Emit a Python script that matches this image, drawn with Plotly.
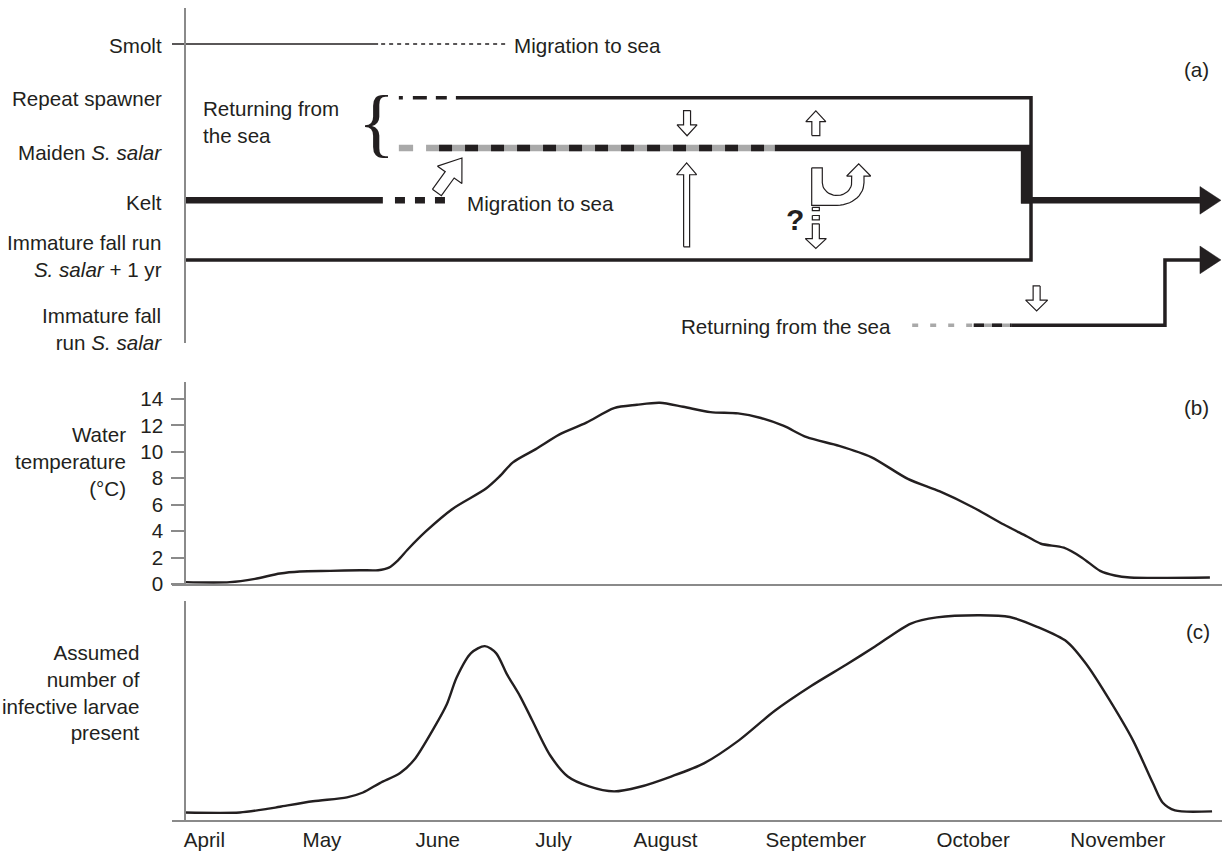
import numpy as np
import plotly.graph_objects as go

INK = "#231f20"
GREY = "#a9a9a9"
AXIS_GREY = "#8a8a8a"
FONT = "Liberation Sans, Arial, sans-serif"
FS = 20.6

# ---------------------------------------------------------------- data
# shared time axis: days counted from the start of April
MONTHS = ["April", "May", "June", "July", "August", "September", "October", "November"]
MONTH_DAY = [4.5, 31.7, 58.5, 85.3, 111.2, 146.0, 182.4, 215.9]

# (b) water temperature (°C)
TEMP_DAY = [0.0, 10.4, 16.2, 22.0, 26.6, 33.6, 40.5, 44.7, 47.2, 49.3,
            51.5, 55.8, 62.0, 69.6, 72.7, 75.9, 81.2, 86.6, 92.9, 99.3,
            104.6, 109.9, 115.3, 121.6, 128.0, 133.3, 138.6, 143.9, 151.4, 158.8,
            167.3, 174.7, 182.1, 189.5, 194.9, 198.1, 203.4, 207.6, 211.8, 215.2,
            218.7, 237.2]
TEMP_C = [0.15, 0.15, 0.4, 0.8, 0.95, 1.0, 1.05, 1.05, 1.25, 1.8,
          2.6, 4.0, 5.7, 7.2, 8.1, 9.2, 10.2, 11.3, 12.2, 13.3,
          13.55, 13.7, 13.4, 13.0, 12.9, 12.55, 11.95, 11.1, 10.45, 9.6,
          7.95, 7.0, 5.85, 4.5, 3.6, 3.05, 2.75, 2.0, 1.0, 0.65,
          0.5, 0.5]
TEMP_TICKS = [0, 2, 4, 6, 8, 10, 12, 14]

# (c) assumed number of infective larvae (relative scale, 0-100)
LARVAE_DAY = [0.0, 12.7, 19.0, 22.0, 29.6, 37.5, 41.2, 45.1, 49.8, 53.0,
              57.6, 60.6, 62.9, 66.2, 69.4, 72.0, 74.5, 77.5, 80.3, 84.5,
              88.6, 93.5, 99.3, 105.1, 112.5, 120.1, 128.2, 136.5, 144.9, 153.0,
              159.7, 168.0, 174.0, 184.0, 190.9, 197.2, 204.1, 208.7, 214.1, 219.4,
              224.0, 226.3, 229.1, 237.7]
LARVAE = [3.6, 3.6, 5.2, 6.2, 8.7, 10.5, 12.7, 17.0, 21.6, 27.5,
          42.1, 53.0, 65.3, 76.3, 79.5, 76.3, 66.7, 56.8, 45.9, 29.7,
          20.0, 15.5, 13.2, 15.2, 20.0, 26.0, 36.5, 50.0, 61.3, 71.0,
          79.3, 89.8, 92.6, 93.6, 92.8, 88.3, 81.5, 71.0, 54.5, 36.5,
          17.0, 8.0, 4.5, 4.1]

# (a) life-history rows and the day ranges of each phase
ROW_LABELS = ["Smolt", "Repeat spawner", "Maiden <i>S. salar</i>", "Kelt",
              "Immature fall run<br><i>S. salar</i> + 1 yr",
              "Immature fall<br>run <i>S. salar</i>"]
ROW_Y = [5.71, 4.68, 3.72, 2.72, 1.58, 0.33]
ROW_LABEL_SHIFT = [-2, -1, -4, -2, 4, -4]
R_SMOLT, R_REPEAT, R_MAIDEN, R_KELT, R_IMM1, R_IMM = ROW_Y

SMOLT_RIVER = [-3.0, 44.7]
SMOLT_MIGRATING = [45.4, 74.1]
REPEAT_ARRIVING = [49.5, 60.6]
REPEAT_RIVER = [62.7, 195.8]
MAIDEN_FIRST = [49.5, 52.8]
MAIDEN_ARRIVING = [55.8, 136.5]
MAIDEN_ARRIVING_DARK = [58.8, 136.5]
MAIDEN_RIVER = [136.5, 195.8]
MAIDEN_DROP_DAY = 194.6
KELT_RIVER = [0.0, 45.8]
KELT_MIGRATING = [48.6, 60.4]
KELT_OUT = [193.5, 234.9]
IMM1_RIVER = [0.0, 195.8]
IMM_ARRIVING = [168.3, 182.4]
IMM_MIXED = [182.4, 191.2]
IMM_MIXED_DARK = [182.6, 191.2]
IMM_RIVER = [191.2, 226.8]
IMM_OUT = [226.8, 234.9]

# ---------------------------------------------------------------- layout geometry
W, H = 1224, 857
X_RANGE = [-3, 240]
X_PX = (172, 1222)
Y_AXIS_PX = 185
A_PX, B_PX, C_PX = (8, 347), (387, 591.7), (609, 831)
A_RANGE, B_RANGE, C_RANGE = [0, 6.4], [0, 15.27], [0, 100]
PX_DAY = (X_PX[1] - X_PX[0]) / (X_RANGE[1] - X_RANGE[0])
PX_ROW = (A_PX[1] - A_PX[0]) / (A_RANGE[1] - A_RANGE[0])


def dom(px):
    top, bottom = px
    return [1 - bottom / H, 1 - top / H]


def py(px_y):
    return 1 - px_y / H


fig = go.Figure()


def line_a(xs, ys, width, color=INK, dash="solid"):
    fig.add_trace(go.Scatter(x=xs, y=ys, mode="lines", xaxis="x3", yaxis="y3",
                             line=dict(color=color, width=width, dash=dash),
                             hoverinfo="skip", showlegend=False))


def polys_a(polys, fill, width=1.2):
    xs, ys = [], []
    for p in polys:
        xs += [q[0] for q in p] + [p[0][0], None]
        ys += [q[1] for q in p] + [p[0][1], None]
    fig.add_trace(go.Scatter(x=xs, y=ys, mode="lines", fill="toself", fillcolor=fill,
                             line=dict(color=INK, width=width), xaxis="x3", yaxis="y3",
                             hoverinfo="skip", showlegend=False))


def to_data(points_px, origin):
    ox, oy = origin
    return [(ox + dx / PX_DAY, oy + dy / PX_ROW) for dx, dy in points_px]


def block_arrow(tail, tip, shaft, head, head_len):
    """Open block arrow from tail to tip (data units); sizes in screen pixels."""
    t = np.array([tail[0] * PX_DAY, tail[1] * PX_ROW])
    h = np.array([tip[0] * PX_DAY, tip[1] * PX_ROW])
    d = (h - t) / np.hypot(*(h - t))
    n = np.array([-d[1], d[0]])
    b = h - d * head_len
    pts = [t + n * shaft / 2, b + n * shaft / 2, b + n * head / 2, h,
           b - n * head / 2, b - n * shaft / 2, t - n * shaft / 2]
    return [(p[0] / PX_DAY, p[1] / PX_ROW) for p in pts]


def solid_head(end_day, row, length=21, height=28):
    return to_data([(0, height / 2), (length, 0), (0, -height / 2)], (end_day, row))


# ---------------------------------------------------------------- panel (a)
line_a(SMOLT_RIVER, [R_SMOLT] * 2, 1.3)
line_a(SMOLT_MIGRATING, [R_SMOLT] * 2, 1.3, dash="4px,4px")

line_a(REPEAT_ARRIVING, [R_REPEAT] * 2, 3.5, dash="4px,10px,14px,9px,11px,9px")
line_a(REPEAT_RIVER + [REPEAT_RIVER[1], IMM1_RIVER[0]],
       [R_REPEAT, R_REPEAT, R_IMM1, R_IMM1], 3.5)

line_a(MAIDEN_FIRST, [R_MAIDEN] * 2, 6.5, color=GREY)
line_a(MAIDEN_ARRIVING, [R_MAIDEN] * 2, 6.5, color=GREY)
line_a(MAIDEN_ARRIVING_DARK, [R_MAIDEN] * 2, 6.5, dash="13px,13px")
line_a(MAIDEN_RIVER, [R_MAIDEN] * 2, 6.5)
line_a([MAIDEN_DROP_DAY] * 2, [R_MAIDEN + 3.2 / PX_ROW, R_KELT - 3.2 / PX_ROW], 10)

line_a(KELT_RIVER, [R_KELT] * 2, 6.5)
line_a(KELT_MIGRATING, [R_KELT] * 2, 6.5, dash="10px,10px")
line_a(KELT_OUT, [R_KELT] * 2, 6.5)

line_a(IMM_ARRIVING, [R_IMM] * 2, 3.5, color=GREY, dash="6px,12px")
line_a(IMM_MIXED, [R_IMM] * 2, 3.5, color=GREY)
line_a(IMM_MIXED_DARK, [R_IMM] * 2, 3.5, dash="10px,8px")
line_a(IMM_RIVER + [IMM_OUT[0], IMM_OUT[1]], [R_IMM, R_IMM, R_IMM1, R_IMM1], 3.5)

polys_a([solid_head(KELT_OUT[1], R_KELT), solid_head(IMM_OUT[1], R_IMM1)], INK, width=0.5)

# movement arrows between the rows
ARROWS = [
    # (tail day, tail row, tip day, tip row, shaft px, head px, head length px)
    (116.2, 4.437, 116.2, 3.955, 7, 20, 11),
    (146.0, 3.959, 146.0, 4.431, 8, 20, 11),
    (116.1, 1.831, 116.1, 3.436, 6, 20, 12),
    (146.0, 2.271, 146.0, 1.799, 7, 21, 10),
    (197.1, 1.082, 197.1, 0.604, 7, 22, 11),
    (58.3, 2.870, 64.1, 3.530, 11, 30, 21),
]
arrow_polys = [block_arrow((a[0], a[1]), (a[2], a[3]), a[4], a[5], a[6]) for a in ARROWS]

# U-turn arrow (fish that turn back), drawn around its bend centre
U_CENTRE = (150.9, 3.058)
t_in = np.linspace(np.pi, 2 * np.pi, 20)
t_out = np.linspace(0, -np.pi / 2, 14)
u_pts = [(-25.3, 15), (-14.7, 15)]
u_pts += [(14.7 * np.cos(t), 13 * np.sin(t)) for t in t_in]
u_pts += [(14.7, 6.7), (9.7, 6.7), (21.7, 19), (33.7, 6.7), (27, 6.7)]
u_pts += [(27 * np.cos(t), 23 * np.sin(t)) for t in t_out]
u_pts += [(-25.3, -23)]
arrow_polys.append(to_data(u_pts, U_CENTRE))

# dashed stem under the U-turn
for cy, hgt in [(2.554, 3.4), (2.388, 4.4)]:
    arrow_polys.append(to_data([(-3.5, hgt / 2), (3.5, hgt / 2), (3.5, -hgt / 2), (-3.5, -hgt / 2)],
                               (146.0, cy)))
polys_a(arrow_polys, "white", width=1.2)

# ---------------------------------------------------------------- panels (b) and (c)
fig.add_trace(go.Scatter(x=TEMP_DAY, y=TEMP_C, mode="lines", xaxis="x2", yaxis="y2",
                         line=dict(color=INK, width=2.4, shape="spline", smoothing=0.8),
                         hoverinfo="skip", showlegend=False))
fig.add_trace(go.Scatter(x=LARVAE_DAY, y=LARVAE, mode="lines", xaxis="x", yaxis="y",
                         line=dict(color=INK, width=2.4, shape="spline", smoothing=0.8),
                         hoverinfo="skip", showlegend=False))

# ---------------------------------------------------------------- text
ann = []
txt = dict(family=FONT, size=FS, color=INK)
for lab, row, shift in zip(ROW_LABELS, ROW_Y, ROW_LABEL_SHIFT):
    ann.append(dict(text=lab, xref="paper", x=164 / W, xanchor="right", align="right",
                    yref="y3", y=row, yanchor="middle", yshift=shift, showarrow=False, font=txt))

ann += [
    dict(text="Migration to sea", xref="x3", x=SMOLT_MIGRATING[1] + 1.6, xanchor="left",
         yref="y3", y=R_SMOLT, yanchor="middle", yshift=-2, showarrow=False, font=txt),
    dict(text="Migration to sea", xref="x3", x=KELT_MIGRATING[1] + 4.4, xanchor="left",
         yref="y3", y=R_KELT, yanchor="middle", yshift=-3, showarrow=False, font=txt),
    dict(text="Returning from<br>the sea", xref="x3", x=3.6, xanchor="left", align="left",
         yref="y3", y=R_MAIDEN + 0.53, yanchor="middle", yshift=-2, showarrow=False, font=txt),
    dict(text="Returning from the sea", xref="x3", x=IMM_ARRIVING[0] - 4.5, xanchor="right",
         yref="y3", y=R_IMM, yanchor="middle", yshift=-1, showarrow=False, font=txt),
    dict(text="{", xref="x3", x=44.4, xanchor="center",
         yref="y3", y=(R_REPEAT + R_MAIDEN) / 2, yanchor="middle", yshift=1, showarrow=False,
         font=dict(family="Liberation Serif, Times New Roman, serif", size=77, color=INK)),
    dict(text="<b>?</b>", xref="x3", x=141.2, xanchor="center",
         yref="y3", y=2.36, yanchor="middle", showarrow=False,
         font=dict(family=FONT, size=30, color=INK)),
    dict(text="(a)", xref="paper", x=1211 / W, xanchor="right", yref="paper", y=py(70),
         yanchor="middle", showarrow=False, font=txt),
    dict(text="(b)", xref="paper", x=1211 / W, xanchor="right", yref="paper", y=py(413),
         yanchor="middle", showarrow=False, font=txt),
    dict(text="(c)", xref="paper", x=1212 / W, xanchor="right", yref="paper", y=py(640),
         yanchor="middle", showarrow=False, font=txt),
    dict(text="Water<br>temperature<br>(°C)", xref="paper", x=128 / W, xanchor="right",
         align="right", yref="paper", y=py(468), yanchor="middle", showarrow=False, font=txt),
    dict(text="Assumed<br>number of<br>infective larvae<br>present", xref="paper", x=142 / W,
         xanchor="right", align="right", yref="paper", y=py(701), yanchor="middle",
         showarrow=False, font=txt),
]

# ---------------------------------------------------------------- axes
x_dom = [X_PX[0] / W, X_PX[1] / W]
ypos = Y_AXIS_PX / W
spine = dict(showline=True, linecolor=AXIS_GREY, linewidth=1.5, showgrid=False, zeroline=False)

fig.update_layout(
    width=W, height=H, margin=dict(l=0, r=0, t=0, b=0),
    paper_bgcolor="white", plot_bgcolor="white", showlegend=False,
    font=dict(family=FONT, size=FS, color=INK),
    xaxis=dict(domain=x_dom, range=X_RANGE, anchor="y", tickvals=MONTH_DAY, ticktext=MONTHS,
               ticks="", tickfont=dict(size=FS, color=INK), **spine),
    yaxis=dict(domain=dom(C_PX), range=C_RANGE, anchor="free", position=ypos,
               ticks="", showticklabels=False, **spine),
    xaxis2=dict(domain=x_dom, range=X_RANGE, anchor="y2", ticks="", showticklabels=False, **spine),
    yaxis2=dict(domain=dom(B_PX), range=B_RANGE, anchor="free", position=ypos,
                tickvals=TEMP_TICKS, ticks="outside", ticklen=13, tickwidth=1.5,
                tickcolor=AXIS_GREY, ticklabelstandoff=4,
                tickfont=dict(size=FS, color=INK), **spine),
    xaxis3=dict(domain=x_dom, range=X_RANGE, anchor="y3", visible=False),
    yaxis3=dict(domain=dom(A_PX), range=A_RANGE, anchor="free", position=ypos,
                ticks="", showticklabels=False, **spine),
    annotations=ann,
)

fig.write_html("out.html", config={"displayModeBar": False})
